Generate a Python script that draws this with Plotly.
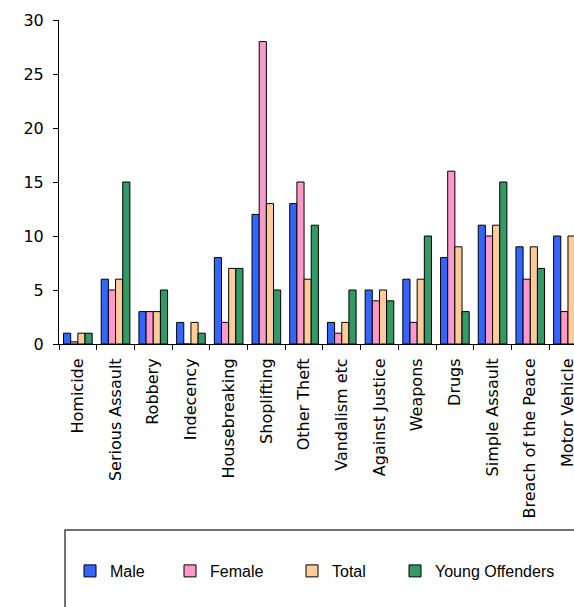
import plotly.graph_objects as go

categories = ["Homicide", "Serious Assault", "Robbery", "Indecency", "Housebreaking",
              "Shoplifting", "Other Theft", "Vandalism etc", "Against Justice",
              "Weapons", "Drugs", "Simple Assault", "Breach of the Peace", "Motor Vehicle"]
male = [1, 6, 3, 2, 8, 12, 13, 2, 5, 6, 8, 11, 9, 10]
female = [0.2, 5, 3, 0, 2, 28, 15, 1, 4, 2, 16, 10, 6, 3]
total = [1, 6, 3, 2, 7, 13, 6, 2, 5, 6, 9, 11, 9, 10]
young = [1, 15, 5, 1, 7, 5, 11, 5, 4, 10, 3, 15, 7, None]
y_ticks = [0, 5, 10, 15, 20, 25, 30]

W, H = 574, 607
L, T, B = 59, 20, 344          # pixel positions of plot area
R = 574
PW = R - L
PH = B - T


def px(x):
    return (x - L) / PW


def py(y):
    return (B - y) / PH


series = [
    ("Male", male, "#3366FF", "legend", 110),
    ("Female", female, "#FF99CC", "legend2", 210),
    ("Total", total, "#FFCC99", "legend3", 332),
    ("Young Offenders", young, "#339966", "legend4", 435),
]

fig = go.Figure()
for name, vals, col, lg, _ in series:
    fig.add_trace(go.Bar(
        x=categories, y=vals, name=name, legend=lg,
        marker=dict(color=col, line=dict(color="#000000", width=1)),
    ))

legend_font = dict(family="Liberation Sans, Arial, sans-serif", size=16, color="#000000")
layout_legends = {}
for name, vals, col, lg, tx in series:
    layout_legends[lg] = dict(
        x=px(tx - 40), xanchor="left", y=py(571), yanchor="middle",
        orientation="h", font=legend_font, bgcolor="rgba(0,0,0,0)",
        borderwidth=0, itemwidth=30,
    )

tick_font = dict(family="DejaVu Sans, Verdana, sans-serif", size=16, color="#000000")

fig.update_layout(
    width=W, height=H,
    margin=dict(l=L, r=W - R, t=T, b=H - B, autoexpand=False),
    paper_bgcolor="white", plot_bgcolor="white",
    barmode="group", bargap=0.24, bargroupgap=0,
    showlegend=True,
    **layout_legends,
    xaxis=dict(
        type="category", range=[-0.5, 13.16],
        showline=True, linecolor="#000000", linewidth=1,
        ticks="outside", tickson="boundaries", ticklen=5, tickcolor="#000000",
        tickangle=-90, showgrid=False, zeroline=False,
        ticklabelstandoff=7,
        tickfont=tick_font,
    ),
    yaxis=dict(
        range=[0, 30], tickvals=y_ticks,
        showline=True, linecolor="#000000", linewidth=1,
        ticks="outside", ticklen=5, tickcolor="#000000",
        ticklabelstandoff=6,
        showgrid=False, zeroline=False,
        tickfont=tick_font,
    ),
    shapes=[dict(
        type="rect", xref="paper", yref="paper",
        x0=px(65), x1=px(640), y0=py(530), y1=py(660),
        line=dict(color="#444444", width=1.5), fillcolor="rgba(0,0,0,0)", layer="below",
    )],
)

fig.write_html("out.html",
               config={"displayModeBar": False},
               post_script="document.body.style.margin='0';document.body.style.overflow='hidden';")
